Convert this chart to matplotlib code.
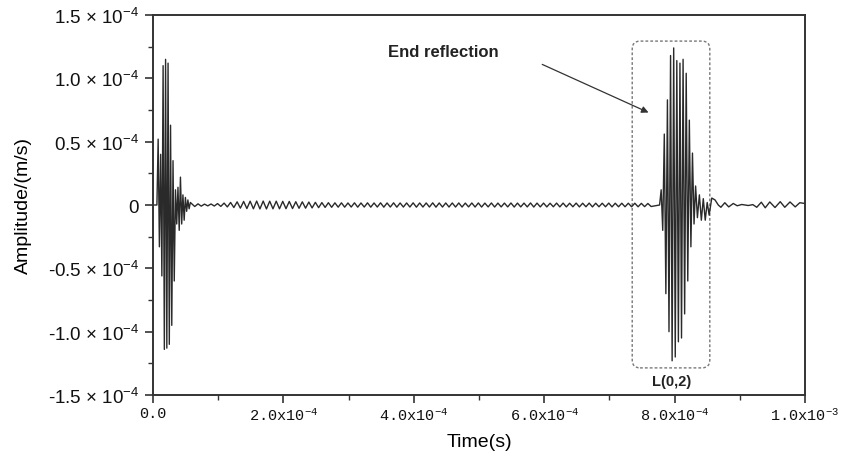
import numpy as np
import matplotlib
matplotlib.use("Agg")
import matplotlib.pyplot as plt
from matplotlib.patches import FancyBboxPatch

# ---------------- data ----------------
# Incident packet: extrema (x1e-4 m/s), first at p1_t0, spaced p1_dt
p1_t0 = 6.0e-6
p1_dt = 1.9e-6
p1_vals = [0.0, 0.52, -0.33, 0.40, -0.56, 1.10, -1.14, 1.15, -1.13, 1.12,
           -1.10, 0.63, -0.95, 0.35, -0.60, 0.12, -0.15, 0.14, -0.20, 0.22,
           -0.15, 0.08, -0.12, 0.06, -0.05, 0.04, -0.03, 0.02]

# Low-level ripple between the packets: amplitude per cycle (x1e-6 m/s)
rip_t0 = 5.9e-5
rip_period = 1.0e-5
rip_amp = [1.2, 0.9, 0.7, 0.8, 1.1, 1.5, 2.0, 2.5, 2.8, 3.0,
           3.1, 3.1, 3.0, 3.0, 2.9, 2.8, 2.6, 2.5, 2.3, 2.1,
           1.9, 1.8, 1.7, 1.7, 1.6, 1.7, 1.6, 1.7, 1.6, 1.7,
           1.6, 1.7, 1.6, 1.6, 1.7, 1.6, 1.6, 1.7, 1.6, 1.6,
           1.6, 1.6, 1.5, 1.6, 1.6, 1.5, 1.6, 1.5, 1.5, 1.6,
           1.5, 1.5, 1.6, 1.5, 1.5, 1.4, 1.5, 1.5, 1.4, 1.5,
           1.4, 1.5, 1.4, 1.4, 1.5, 1.4, 1.4, 1.4, 1.4, 1.3,
           1.2]

# End-reflection packet L(0,2): extrema (x1e-4 m/s)
p2_t0 = 7.77e-4
p2_dt = 2.4e-6
p2_vals = [0.0, 0.12, -0.20, 0.56, -0.70, 0.83, -1.00, 1.18, -1.23, 1.24,
           -1.20, 1.14, -1.08, 1.12, -1.05, 1.15, -0.86, 1.04, -0.60, 0.67,
           -0.33, 0.41, -0.15, 0.15]
# Packet tail (x1e-4 m/s)
tail_t0 = 8.35e-4
tail_dt = 3.0e-6
tail_vals = [-0.10, 0.08, -0.12, 0.05, -0.12, 0.02, -0.08]

# Ripple after the reflection: times (us) and values (x1e-6 m/s)
post_t_us = [857, 862, 867, 871, 877, 883, 890, 896, 903, 913, 920, 926,
             933, 939, 946, 954, 962, 969, 977, 985, 992, 1000]
post_vals = [5.5, 4.0, 0.0, -1.8, 1.8, -1.5, 1.2, -0.6, 0.4, -0.4, 0.3,
             -1.8, 2.2, -2.2, 2.4, -2.0, 2.6, -1.8, 2.4, -1.5, 1.8, 1.2]

yticks = [1.5e-4, 1.0e-4, 0.5e-4, 0.0, -0.5e-4, -1.0e-4, -1.5e-4]
ytick_labels = [r"1.5 × 10$\mathregular{^{-4}}$", r"1.0 × 10$\mathregular{^{-4}}$",
                r"0.5 × 10$\mathregular{^{-4}}$", "0",
                r"-0.5 × 10$\mathregular{^{-4}}$", r"-1.0 × 10$\mathregular{^{-4}}$",
                r"-1.5 × 10$\mathregular{^{-4}}$"]
xticks = [0.0, 2e-4, 4e-4, 6e-4, 8e-4, 1e-3]
xtick_labels = ["0.0", r"2.0x10$\mathregular{^{-4}}$", r"4.0x10$\mathregular{^{-4}}$",
                r"6.0x10$\mathregular{^{-4}}$", r"8.0x10$\mathregular{^{-4}}$",
                r"1.0x10$\mathregular{^{-3}}$"]

# ---------------- assemble the trace ----------------
t_parts, v_parts = [], []
t_parts.append(p1_t0 + p1_dt * np.arange(len(p1_vals)))
v_parts.append(np.array(p1_vals) * 1e-4)

half = rip_period / 2
rt, rv = [], []
for i, a in enumerate(rip_amp):
    rt += [rip_t0 + i * rip_period, rip_t0 + i * rip_period + half]
    rv += [a * 1e-6, -a * 1e-6]
t_parts.append(np.array(rt)); v_parts.append(np.array(rv))

t_parts.append(p2_t0 + p2_dt * np.arange(len(p2_vals)))
v_parts.append(np.array(p2_vals) * 1e-4)
t_parts.append(tail_t0 + tail_dt * np.arange(len(tail_vals)))
v_parts.append(np.array(tail_vals) * 1e-4)
t_parts.append(np.array(post_t_us) * 1e-6)
v_parts.append(np.array(post_vals) * 1e-6)

t = np.concatenate([[0.0]] + t_parts)
v = np.concatenate([[0.0]] + v_parts)

# ---------------- figure ----------------
fig = plt.figure(figsize=(8.47, 4.60), dpi=100)
ax = fig.add_axes([153/847, 1 - 396/460, (805-153)/847, (396-16)/460])

ax.plot(t, v, color="#2a2a2a", lw=1.0)

ax.set_xlim(0, 1e-3)
ax.set_ylim(-1.5e-4, 1.5e-4)

ax.set_yticks(yticks)
ax.set_yticklabels(ytick_labels, fontfamily="Liberation Sans", fontsize=13.5)
ax.set_yticks(np.arange(-1.5e-4, 1.51e-4, 0.25e-4), minor=True)
ax.set_xticks(xticks)
ax.set_xticklabels(xtick_labels, fontfamily="Liberation Mono", fontsize=11)
ax.set_xticks(np.arange(0, 1.01e-3, 1e-4), minor=True)

ax.tick_params(axis="both", which="major", direction="out", length=6, width=1.2,
               color="#333333", labelcolor="#111111")
ax.tick_params(axis="both", which="minor", direction="out", length=3.5, width=1.0,
               color="#333333")
ax.tick_params(axis="y", which="major", pad=4)
ax.tick_params(axis="x", which="major", pad=2)
for s in ax.spines.values():
    s.set_linewidth(1.4)
    s.set_color("#333333")

ax.set_xlabel("Time(s)", fontfamily="Liberation Sans", fontsize=14)
ax.xaxis.set_label_coords(0.5, -0.1)
ax.set_ylabel("Amplitude/(m/s)", fontfamily="Liberation Sans", fontsize=14)
ax.yaxis.set_label_coords(-0.186, 0.5)

# dashed rounded box around L(0,2)
box = FancyBboxPatch((7.35e-4, -1.286e-4), 1.19e-4, 2.58e-4,
                     boxstyle="round,pad=0,rounding_size=1.2e-5",
                     mutation_aspect=0.517, fill=False, edgecolor="#777777",
                     lw=1.0, linestyle=(0, (2.0, 1.5)))
ax.add_patch(box)

ax.text(7.96e-4, -1.39e-4, "L(0,2)", ha="center", va="center",
        fontfamily="Liberation Sans", fontweight="bold", fontsize=10.5, color="#222222")
ax.text(3.6e-4, 1.21e-4, "End reflection", ha="left", va="center",
        fontfamily="Liberation Sans", fontweight="bold", fontsize=12, color="#222222")
ax.annotate("", xy=(7.6e-4, 0.73e-4), xytext=(5.97e-4, 1.11e-4),
            arrowprops=dict(arrowstyle="-|>", color="#333333", lw=0.9,
                            mutation_scale=10, shrinkA=0, shrinkB=0))

fig.savefig("out.png", dpi=100)
